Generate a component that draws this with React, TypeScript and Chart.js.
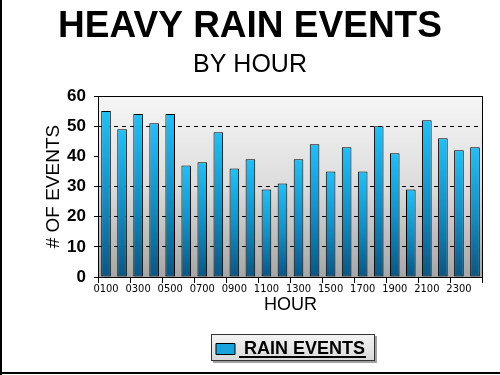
import React, { useEffect, useRef } from "react";
import { Chart, registerables } from "chart.js";

Chart.register(...registerables);

const HOURS = [
  "0100", "0200", "0300", "0400", "0500", "0600", "0700", "0800",
  "0900", "1000", "1100", "1200", "1300", "1400", "1500", "1600",
  "1700", "1800", "1900", "2000", "2100", "2200", "2300", "2400",
];
const RAIN_EVENTS = [
  55, 49, 54, 51, 54, 37, 38, 48,
  36, 39, 29, 31, 39, 44, 35, 43,
  35, 50, 41, 29, 52, 46, 42, 43,
];
const Y_GRID_VALUES = [10, 20, 30, 50];
const TITLE = "HEAVY RAIN EVENTS";
const SUBTITLE = "BY HOUR";
const SERIES_NAME = "RAIN EVENTS";

const FONT = "'Liberation Sans', Arial, sans-serif";
const NARROW = "'Liberation Sans Narrow', 'DejaVu Sans Condensed', 'Liberation Sans', sans-serif";

const decorPlugin = {
  id: "decor",
  beforeDraw(chart: any) {
    const { ctx, chartArea } = chart;
    ctx.save();
    // plot background gradient
    const g = ctx.createLinearGradient(0, chartArea.top, 0, chartArea.bottom);
    g.addColorStop(0, "#f6f6f6");
    g.addColorStop(0.5, "#dcdcdc");
    g.addColorStop(1, "#a6a6a6");
    ctx.fillStyle = g;
    ctx.fillRect(chartArea.left, chartArea.top, chartArea.right - chartArea.left, chartArea.bottom - chartArea.top);
    // legend background
    const lg = chart.legend;
    if (lg && lg.legendHitBoxes && lg.legendHitBoxes.length) {
      const hb = lg.legendHitBoxes[0];
      const cy = hb.top + hb.height / 2;
      const x = Math.round(hb.left - 5);
      const y = Math.round(cy - 15);
      const w = Math.round(hb.width + 15);
      const h = 27;
      ctx.fillStyle = "#a0a0a0";
      ctx.fillRect(x + 2, y + 2, w, h);
      const bg = ctx.createLinearGradient(0, y, 0, y + h);
      bg.addColorStop(0, "#f4f4f4");
      bg.addColorStop(1, "#d8d8d8");
      ctx.fillStyle = bg;
      ctx.fillRect(x, y, w, h);
      ctx.strokeStyle = "#333";
      ctx.lineWidth = 1;
      ctx.strokeRect(x + 0.5, y + 0.5, w - 1, h - 1);
    }
    ctx.restore();
  },
  afterDraw(chart: any) {
    const { ctx, chartArea, width, height } = chart;
    ctx.save();
    // plot frame
    ctx.strokeStyle = "#000";
    ctx.lineWidth = 1;
    ctx.strokeRect(Math.round(chartArea.left) + 0.5, Math.round(chartArea.top) + 0.5,
      Math.round(chartArea.right - chartArea.left) - 1, Math.round(chartArea.bottom - chartArea.top));
    // titles
    ctx.fillStyle = "#000";
    ctx.textAlign = "center";
    ctx.textBaseline = "alphabetic";
    ctx.font = `bold 37px ${FONT}`;
    ctx.fillText(TITLE, width / 2, 37);
    ctx.font = `25px ${FONT}`;
    ctx.fillText(SUBTITLE, width / 2, 72);
    // legend underline
    const lg = chart.legend;
    if (lg && lg.legendHitBoxes && lg.legendHitBoxes.length) {
      const hb = lg.legendHitBoxes[0];
      const cy = hb.top + hb.height / 2;
      ctx.fillStyle = "#000";
      ctx.fillRect(Math.round(hb.left + 23), Math.round(cy + 7), Math.round(hb.width - 22), 2);
    }
    // outer frame (left & bottom)
    ctx.fillStyle = "#000";
    ctx.fillRect(0, 0, 2, height);
    ctx.fillRect(0, height - 3, width, 2);
    ctx.restore();
  },
};

function barGradient(context: any) {
  const chart = context.chart;
  const y = chart.scales.y;
  if (!chart.chartArea || !y || context.parsed == null) return "#1a9fd8";
  const top = y.getPixelForValue(context.parsed.y);
  const base = y.getPixelForValue(0);
  if (!isFinite(top) || !isFinite(base) || top === base) return "#1a9fd8";
  const g = chart.ctx.createLinearGradient(0, top, 0, base);
  g.addColorStop(0, "#22bff6");
  g.addColorStop(0.5, "#1590c6");
  g.addColorStop(1, "#0a5683");
  return g;
}

export default function App() {
  const ref = useRef<HTMLCanvasElement | null>(null);

  useEffect(() => {
    document.body.style.margin = "0";
    const canvas = ref.current;
    if (!canvas) return;
    const chart = new Chart(canvas, {
      type: "bar",
      data: {
        labels: HOURS,
        datasets: [
          {
            label: SERIES_NAME,
            data: RAIN_EVENTS,
            backgroundColor: barGradient,
            borderColor: "#000",
            borderWidth: 1,
            borderSkipped: false,
            categoryPercentage: 1,
            barPercentage: 0.6,
          },
        ],
      },
      options: {
        responsive: false,
        animation: false,
        devicePixelRatio: 1,
        layout: { padding: { top: 96, right: 17, bottom: 7, left: 0 } },
        plugins: {
          title: { display: false },
          tooltip: { enabled: false },
          legend: {
            display: true,
            position: "bottom",
            fullSize: false,
            labels: {
              color: "#000",
              font: { family: FONT, size: 18, weight: "bold" },
              boxWidth: 19,
              boxHeight: 11,
              padding: 25,
              generateLabels: () => [
                {
                  text: SERIES_NAME,
                  fillStyle: "#1aa3dc",
                  strokeStyle: "#000",
                  lineWidth: 1,
                  hidden: false,
                  datasetIndex: 0,
                },
              ],
            },
          },
        },
        scales: {
          x: {
            offset: true,
            grid: {
              offset: true,
              drawOnChartArea: false,
              color: "rgba(0,0,0,0)",
              tickLength: 6,
              tickColor: (ctx: any) =>
                ctx.index === undefined || ctx.index % 2 === 0 ? "#000" : "rgba(0,0,0,0)",
            },
            border: { display: false },
            ticks: {
              autoSkip: false,
              maxRotation: 0,
              minRotation: 0,
              padding: 1,
              color: "#000",
              font: { family: NARROW, size: 11, lineHeight: 1 },
              callback: (v: any, i: number) => (i % 2 === 0 ? HOURS[i] : ""),
            },
            title: {
              display: true,
              text: "HOUR",
              color: "#000",
              font: { family: FONT, size: 18, lineHeight: 1 },
              padding: { top: 0, bottom: 1 },
            },
          },
          y: {
            min: 0,
            max: 60,
            grid: {
              color: (ctx: any) =>
                ctx.tick && Y_GRID_VALUES.includes(ctx.tick.value) ? "#000" : "rgba(0,0,0,0)",
              tickColor: "#000",
              tickLength: 4,
              lineWidth: 1,
            },
            border: { display: false, dash: [4, 4] },
            ticks: {
              stepSize: 5,
              padding: 8,
              color: "#000",
              font: { family: FONT, size: 17, weight: "bold" },
              callback: (v: any) => (Number(v) % 10 === 0 ? String(v) : ""),
            },
            title: {
              display: true,
              text: "# OF EVENTS",
              color: "#000",
              font: { family: FONT, size: 19 },
              padding: { top: 42, bottom: 0 },
            },
            afterFit: (scale: any) => {
              scale.width = 98;
            },
          },
        },
      },
      plugins: [decorPlugin],
    } as any);
    return () => chart.destroy();
  }, []);

  return (
    <div style={{ width: 500, height: 375, background: "#fff" }}>
      <canvas ref={ref} width={500} height={375} style={{ display: "block" }} />
    </div>
  );
}
